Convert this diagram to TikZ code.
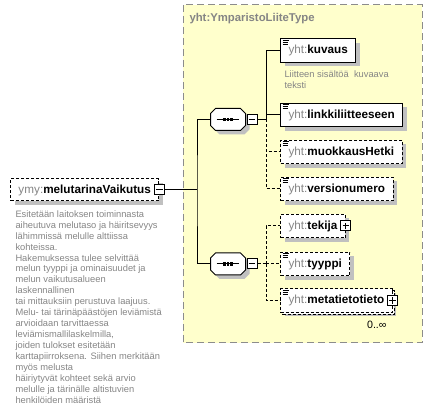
\documentclass[tikz,border=0pt]{standalone}
\usepackage{fontspec}
\setmainfont{Liberation Sans}
\usetikzlibrary{positioning,shadows}
\definecolor{typefill}{HTML}{FFFFCC}
\definecolor{typeline}{HTML}{8C8C8C}
\definecolor{nsgray}{HTML}{858585}
\definecolor{shadowgray}{HTML}{C0C0C0}
\newcommand{\ns}[2]{{\color{nsgray}#1:}\textbf{#2}}
\tikzset{
	typebox/.style   = {draw=typeline, fill=typefill, dash pattern=on 5.25pt off 3pt},
	typetitle/.style = {anchor=west, inner sep=0pt, text=nsgray, font=\fontsize{8.5}{10}\selectfont\bfseries},
	elem/.style      = {draw, fill=white, rectangle, anchor=west, minimum height=17.5pt, inner xsep=6pt, font=\fontsize{8.8}{10}\selectfont,
	                    general shadow={fill=shadowgray, shadow xshift=3pt, shadow yshift=-3pt}},
	opt/.style       = {elem, dash pattern=on 2.25pt off 1.5pt},
	optline/.style   = {dash pattern=on 2.25pt off 1.5pt},
	simple/.style    = {path picture={
		\draw[solid] ([shift={(2,1.5)}]path picture bounding box.north west) -- ++(6,0)
		             ([shift={(2,3.5)}]path picture bounding box.north west) -- ++(5,0)
		             ([shift={(2,5.5)}]path picture bounding box.north west) -- ++(5,0);}},
	seq/.style       = {rectangle, minimum width=25.5pt, minimum height=15.75pt, inner sep=0pt},
	seqbox/.style    = {draw, fill=white, general shadow={fill=shadowgray, shadow xshift=3pt, shadow yshift=-3pt}},
	collapse/.style  = {draw, fill=white, solid, minimum size=7.5pt, inner sep=0pt, path picture={
		\draw ([xshift=-2.6pt]path picture bounding box.center) -- ([xshift=2.6pt]path picture bounding box.center);}},
	expand/.style    = {draw, fill=white, solid, minimum size=7.5pt, inner sep=0pt, path picture={
		\draw ([xshift=-2.6pt]path picture bounding box.center) -- ([xshift=2.6pt]path picture bounding box.center)
		      ([yshift=-2.6pt]path picture bounding box.center) -- ([yshift=2.6pt]path picture bounding box.center);}},
	desc/.style      = {anchor=north west, inner sep=0pt, align=left, text=nsgray, font=\fontsize{7}{8.2}\selectfont},
	fork/.style      = {coordinate},
}

\begin{document}
\begin{tikzpicture}[x=0.75pt, y=-0.75pt, line width=0.75pt]
	\useasboundingbox (0,0) rectangle (433,413);

	% Draw the type frame
	\draw[typebox] (183,5) rectangle (422,343);
	\node[typetitle] (typename) at (189,19) {yht:YmparistoLiiteType};

	% Draw the root element
	\node[opt, minimum height=16.5pt] (root) at (10,190) {\ns{ymy}{melutarinaVaikutus}\hspace{3.5pt}};
	\node[collapse] (rootminus) at (root.east) {};
	\node[desc, below right=6.4pt and 3.75pt of root.south west] (rootdesc) {Esitetään laitoksen toiminnasta\\aiheutuva melutaso ja häiritsevyys\\lähimmissä melulle alttiissa\\kohteissa.\\Hakemuksessa tulee selvittää\\melun tyyppi ja ominaisuudet ja\\melun vaikutusalueen\\laskennallinen\\tai mittauksiin perustuva laajuus.\\Melu- tai tärinäpäästöjen leviämistä\\arvioidaan tarvittaessa\\leviämismallilaskelmilla,\\joiden tulokset esitetään\\karttapiirroksena. Siihen merkitään\\myös melusta\\häiriytyvät kohteet sekä arvio\\melulle ja tärinälle altistuvien\\henkilöiden määristä};

	% Draw the sequences
	\node[seq] (seq1) at (228,119.5) {};
	\node[seq] (seq2) at (228,264) {};
	\foreach \s in {seq1,seq2} {
		\draw[seqbox] ([xshift=3.75pt]\s.north west) -- ([xshift=-3.75pt]\s.north east) -- ([yshift=-3.75pt]\s.north east)
			-- ([yshift=3.75pt]\s.south east) -- ([xshift=-3.75pt]\s.south east) -- ([xshift=3.75pt]\s.south west)
			-- ([yshift=3.75pt]\s.south west) -- ([yshift=-3.75pt]\s.north west) -- cycle;
		\draw ([xshift=-8.5pt]\s.center) -- ([xshift=8.5pt]\s.center);
		\foreach \dx in {-2.8pt,0pt,2.8pt}
			\fill ([xshift=\dx]\s.center) +(-1pt,-1.2pt) rectangle +(1pt,1.2pt);
	}
	\node[collapse, right=0.75pt of seq1] (seq1minus) {};
	\node[collapse, right=0.75pt of seq2] (seq2minus) {};
	\node[fork] (trunk) at (197,190) {};
	\node[fork] (fork1) at (266,119.5) {};
	\node[fork] (fork2) at (266,264) {};

	% Draw the child elements
	\node[elem, simple] (kuvaus) at (280,50.5) {\ns{yht}{kuvaus}};
	\node[desc, below right=5.6pt and 3pt of kuvaus.south west] (kuvausdesc) {Liitteen sisältöä\ \ kuvaava\\teksti};
	\node[elem, simple] (linkki) at (280,115) {\ns{yht}{linkkiliitteeseen}};
	\node[opt, simple] (muokkaus) at (280,152) {\ns{yht}{muokkausHetki}};
	\node[opt, simple] (versio) at (280,189) {\ns{yht}{versionumero}};
	\node[opt] (tekija) at (280,226) {\ns{yht}{tekija}\hspace{3pt}};
	\node[expand] (tekijaplus) at (tekija.east) {};
	\node[opt, simple] (tyyppi) at (280,264) {\ns{yht}{tyyppi}};
	\node[opt, simple, general shadow={fill=white, draw, dash pattern=on 2.25pt off 1.5pt, shadow xshift=1.5pt, shadow yshift=-1.5pt}] (meta) at (280,300.5) {\ns{yht}{metatietotieto}\hspace{2.5pt}};
	\node[expand] (metaplus) at (meta.east) {};
	\node[font=\fontsize{8}{9}\selectfont, below left=2.5pt and 1pt of meta.south east] (metacard) {0..∞};

	% Connect everything together
	\draw (rootminus.east) -- (trunk);
	\draw (seq1.west) -| (trunk) |- (seq2.west);
	\draw (seq1minus.east) -- (fork1);
	\draw (fork1) |- (kuvaus.west);
	\draw (fork1) |- (linkki.west);
	\draw[optline] (fork1) |- (muokkaus.west);
	\draw[optline] (fork1) |- (versio.west);
	\draw[optline] (seq2minus.east) -- (fork2);
	\draw[optline] (fork2) |- (tekija.west);
	\draw[optline] (fork2) |- (tyyppi.west);
	\draw[optline] (fork2) |- (meta.west);
\end{tikzpicture}
\end{document}
